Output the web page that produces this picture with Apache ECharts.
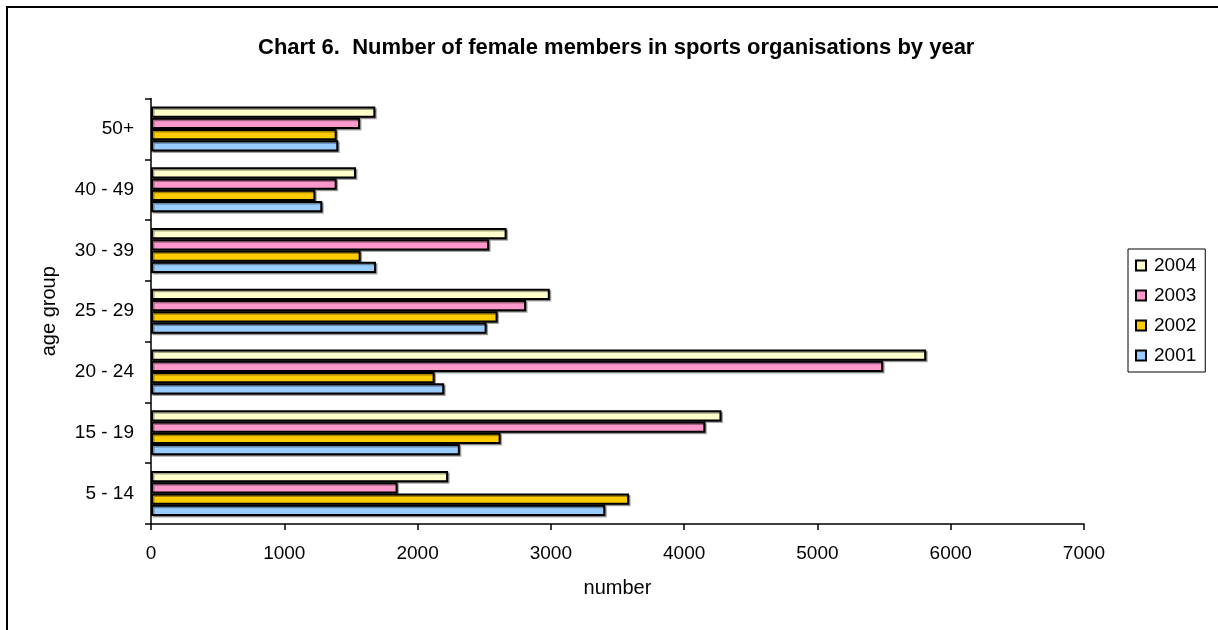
<!DOCTYPE html>
<html>
<head>
<meta charset="utf-8">
<script src="https://cdn.jsdelivr.net/npm/echarts@6/dist/echarts.min.js"></script>
<style>
html,body{margin:0;padding:0;background:#fff;}
#chart{width:1218px;height:630px;}
</style>
</head>
<body>
<div id="chart"></div>
<script>
const categories = ['5 - 14', '15 - 19', '20 - 24', '25 - 29', '30 - 39', '40 - 49', '50+'];
const years = ['2004', '2003', '2002', '2001'];
const v2004 = [2229, 4280, 5816, 2992, 2668, 1538, 1683];
const v2003 = [1850, 4159, 5493, 2814, 2537, 1393, 1568];
const v2002 = [3587, 2623, 2128, 2600, 1573, 1233, 1393];
const v2001 = [3408, 2317, 2200, 2518, 1688, 1285, 1405];
const xTicks = [0, 1000, 2000, 3000, 4000, 5000, 6000, 7000];
const colors = {'2004': '#FFFFCC', '2003': '#FF99CC', '2002': '#FFCC00', '2001': '#99CCFF'};
const valuesByYear = {'2004': v2004, '2003': v2003, '2002': v2002, '2001': v2001};

const FONT = '"Liberation Sans", Arial, sans-serif';
const chart = echarts.init(document.getElementById('chart'));

const series = years.map(y => ({
  name: y,
  type: 'bar',
  data: valuesByYear[y],
  barGap: '0%',
  barCategoryGap: '26%',
  itemStyle: {
    color: colors[y],
    borderColor: '#000',
    borderWidth: 2,
    shadowColor: 'rgba(0,0,0,0.35)',
    shadowOffsetX: 1.5,
    shadowOffsetY: 1.5,
    shadowBlur: 0
  },
  emphasis: {disabled: true}
}));

chart.setOption({
  animation: false,
  backgroundColor: '#fff',
  textStyle: {fontFamily: FONT},
  title: {
    text: 'Chart 6.  Number of female members in sports organisations by year',
    left: 258,
    top: 37,
    padding: 0,
    textStyle: {fontFamily: FONT, fontSize: 22, fontWeight: 'bold', color: '#000', lineHeight: 22}
  },
  legend: {
    orient: 'vertical',
    left: 1128,
    top: 249,
    data: years,
    icon: 'rect',
    itemWidth: 10,
    itemHeight: 10,
    itemGap: 11,
    padding: [7, 9, 7, 7],
    borderColor: '#000',
    borderWidth: 1,
    textStyle: {fontFamily: FONT, fontSize: 19, color: '#000', padding: [0, 0, 0, 3]},
    selectedMode: false
  },
  grid: {left: 151, right: 134, top: 98.5, bottom: 106, containLabel: false},
  xAxis: {
    type: 'value',
    min: xTicks[0],
    max: xTicks[xTicks.length - 1],
    interval: xTicks[1] - xTicks[0],
    name: 'number',
    nameLocation: 'middle',
    nameGap: 54,
    nameTextStyle: {fontFamily: FONT, fontSize: 20, color: '#000'},
    axisLine: {show: true, lineStyle: {color: '#000', width: 1.5}},
    axisTick: {show: true, length: 6, lineStyle: {color: '#000', width: 1.5}},
    axisLabel: {fontFamily: FONT, fontSize: 19, color: '#000', margin: 20, formatter: v => String(v)},
    splitLine: {show: false}
  },
  yAxis: {
    type: 'category',
    data: categories,
    name: 'age group',
    nameLocation: 'middle',
    nameGap: 92,
    nameRotate: 90,
    nameTextStyle: {fontFamily: FONT, fontSize: 20, color: '#000'},
    axisLine: {show: true, lineStyle: {color: '#000', width: 1.5}},
    axisTick: {show: true, length: 6, lineStyle: {color: '#000', width: 1.5}},
    axisLabel: {fontFamily: FONT, fontSize: 19, color: '#000', margin: 17},
    splitLine: {show: false}
  },
  graphic: [{
    type: 'rect',
    shape: {x: 7, y: 7, width: 1400, height: 800},
    style: {fill: 'none', stroke: '#000', lineWidth: 2},
    silent: true,
    z: 100
  }],
  series: series
});
</script>
</body>
</html>
